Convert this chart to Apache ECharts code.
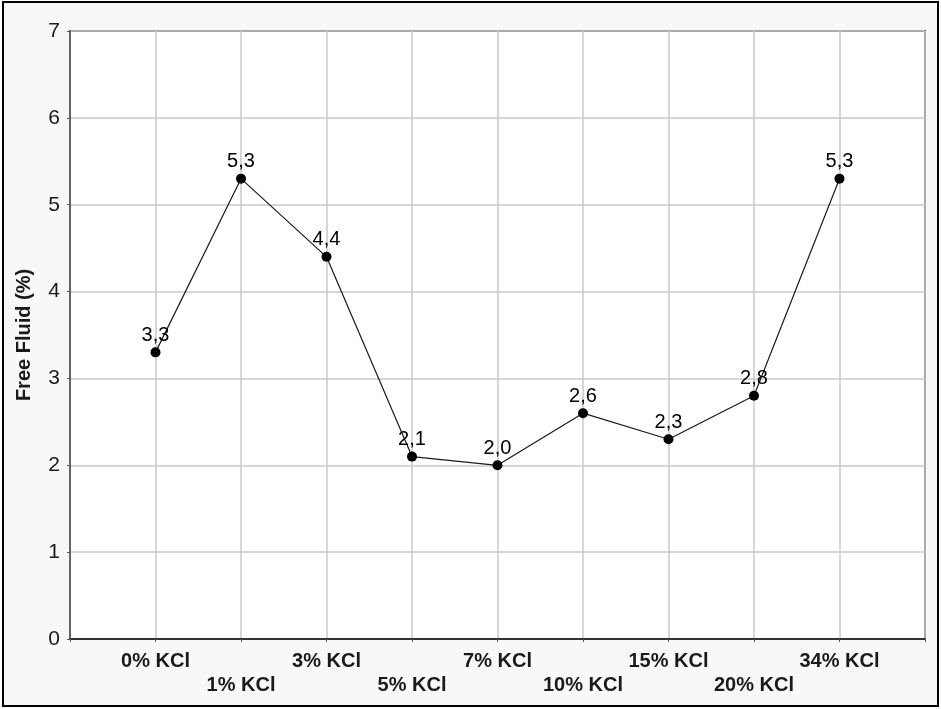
<!DOCTYPE html>
<html>
<head>
<meta charset="utf-8">
<script src="https://cdn.jsdelivr.net/npm/echarts@6/dist/echarts.min.js"></script>
<style>
  html, body { margin: 0; padding: 0; background: #ffffff; }
  #chart { width: 941px; height: 709px; }
</style>
</head>
<body>
<div id="chart"></div>
<script>
// KCl concentrations tested (x positions 1..9 on the axis)
const categories = ['0% KCl', '1% KCl', '3% KCl', '5% KCl', '7% KCl', '10% KCl', '15% KCl', '20% KCl', '34% KCl'];
// Free fluid percentage measured for each concentration
const freeFluid = [3.3, 5.3, 4.4, 2.1, 2.0, 2.6, 2.3, 2.8, 5.3];
// Y-axis range
const yTicks = [0, 1, 2, 3, 4, 5, 6, 7];

const FONT = '"Liberation Sans", Arial, Helvetica, sans-serif';

const chart = echarts.init(document.getElementById('chart'), null, { renderer: 'canvas' });

const points = freeFluid.map((v, i) => [i + 1, v]);

chart.setOption({
  animation: false,
  backgroundColor: '#ffffff',
  textStyle: { fontFamily: FONT },
  graphic: [{
    type: 'rect',
    z: -10,
    silent: true,
    shape: { x: 3, y: 2, width: 935, height: 704 },
    style: { fill: '#f8f8f8', stroke: '#000000', lineWidth: 2 }
  }],
  grid: {
    left: 70, top: 31, right: 16, bottom: 70,
    show: true,
    backgroundColor: '#ffffff',
    borderColor: '#555555',
    borderWidth: 2
  },
  xAxis: {
    type: 'value',
    min: 0,
    max: categories.length + 1,
    interval: 1,
    axisLine: { show: true, lineStyle: { color: '#333333', width: 2 } },
    axisTick: { show: true, inside: false, length: 3, lineStyle: { color: '#555555' } },
    splitLine: { show: true, lineStyle: { color: '#c8c8c8', width: 1.5 } },
    axisLabel: {
      margin: 10,
      fontFamily: FONT,
      fontSize: 20,
      fontWeight: 'bold',
      color: '#1a1a1a',
      lineHeight: 24,
      formatter: function (v) {
        const i = Math.round(v) - 1;
        if (i < 0 || i >= categories.length) return '';
        return i % 2 ? '\n' + categories[i] : categories[i];
      }
    }
  },
  yAxis: {
    type: 'value',
    min: yTicks[0],
    max: yTicks[yTicks.length - 1],
    interval: 1,
    name: 'Free Fluid (%)',
    nameLocation: 'middle',
    nameGap: 36,
    nameTextStyle: { fontFamily: FONT, fontSize: 20, fontWeight: 'bold', color: '#1a1a1a' },
    axisLine: { show: true, lineStyle: { color: '#666666', width: 2 } },
    axisTick: { show: true, length: 3, lineStyle: { color: '#555555' } },
    splitLine: { show: true, lineStyle: { color: '#c8c8c8', width: 1.5 } },
    axisLabel: { margin: 10, fontFamily: FONT, fontSize: 21, color: '#1a1a1a' }
  },
  series: [{
    type: 'line',
    data: points,
    symbol: 'circle',
    symbolSize: 10,
    itemStyle: { color: '#000000' },
    lineStyle: { color: '#1a1a1a', width: 1.2 },
    label: {
      show: true,
      position: 'top',
      distance: 2,
      fontFamily: FONT,
      fontSize: 20,
      color: '#000000',
      formatter: function (p) { return p.value[1].toFixed(1).replace('.', ','); }
    }
  }]
});
</script>
</body>
</html>
